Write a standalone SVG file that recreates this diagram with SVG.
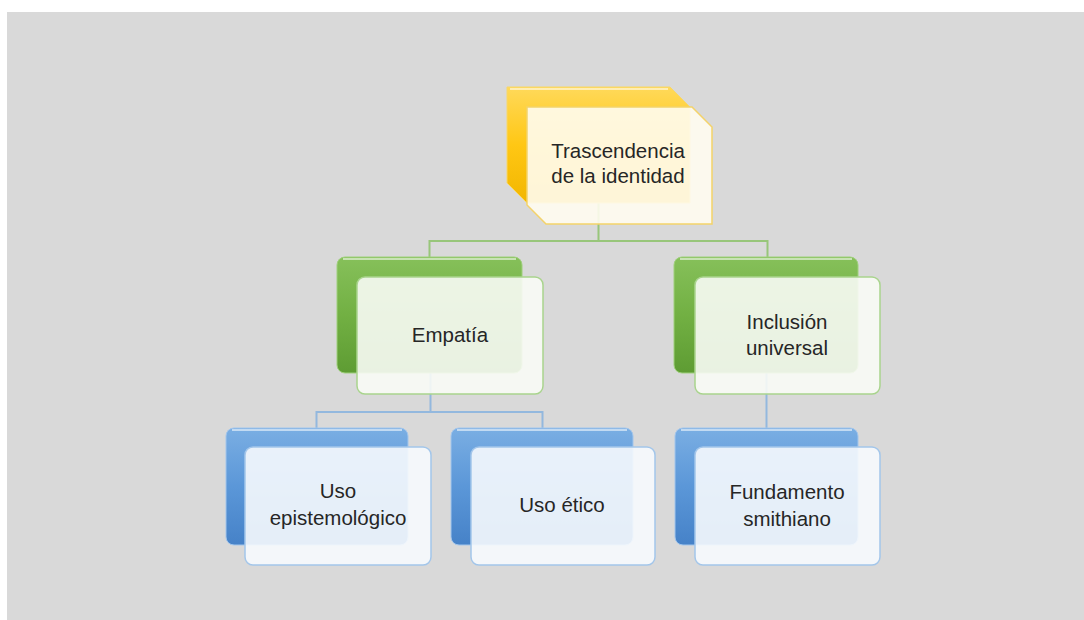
<svg xmlns="http://www.w3.org/2000/svg" width="1084" height="620" viewBox="0 0 1084 620">
<defs>
<linearGradient id="gY" x1="0" y1="0" x2="0" y2="1"><stop offset="0" stop-color="#ffd95a"/><stop offset="0.5" stop-color="#ffc714"/><stop offset="1" stop-color="#f2b600"/></linearGradient>
<linearGradient id="gG" x1="0" y1="0" x2="0" y2="1"><stop offset="0" stop-color="#86c05a"/><stop offset="0.5" stop-color="#72b043"/><stop offset="1" stop-color="#5e9c33"/></linearGradient>
<linearGradient id="gB" x1="0" y1="0" x2="0" y2="1"><stop offset="0" stop-color="#7aaee3"/><stop offset="0.5" stop-color="#5b97d8"/><stop offset="1" stop-color="#4682c8"/></linearGradient>
<style>
.txt{font-family:"Liberation Sans",Arial,sans-serif;font-size:20.5px;fill:#262626;text-anchor:middle}
.lnG{stroke:#98c67a;stroke-width:2;fill:none}
.lnB{stroke:#93b8de;stroke-width:2;fill:none}
.backG{fill:url(#gG);stroke:#9fd07c;stroke-width:1}
.backB{fill:url(#gB);stroke:#a3c6ec;stroke-width:1}
.frontG{fill:#f8fbf5;fill-opacity:0.9;stroke:#a9d48d;stroke-width:1.5}
.frontB{fill:#f6f9fd;fill-opacity:0.9;stroke:#a3c6ea;stroke-width:1.5}
.hl{stroke:#ffffff;stroke-opacity:0.55;stroke-width:2;fill:none}
</style>
</defs>
<rect x="0" y="0" width="1084" height="620" fill="#ffffff"/>
<rect x="7" y="12" width="1077" height="608" fill="#d9d9d9"/>

<g id="connectors">
<path class="lnG" d="M598.5 200 V241 M429.5 241 H767.5 M429.5 240 V258 M767.5 240 V258"/>
<path class="lnB" d="M430.5 370 V412 M316.5 412 H543 M316.5 411 V429 M542.5 411 V429"/>
<path class="lnB" d="M766.5 370 V429"/>
</g>

<g id="node-top">
<polygon points="507,87 670,87 690,107 690,203 527,203 507,183" fill="url(#gY)" stroke="#f7d76a" stroke-width="1"/>
<path class="hl" d="M510 89 H668"/>
<polygon points="527,107 692,107 712,127 712,224 546,224 527,205" fill="#fffcef" fill-opacity="0.9" stroke="#f4d36a" stroke-width="1.5"/>
<text class="txt" x="618" y="158">Trascendencia</text>
<text class="txt" x="618" y="183">de la identidad</text>
</g>

<g id="node-empatia">
<rect class="backG" x="337" y="257" width="185" height="116" rx="8"/>
<path class="hl" d="M343 259 H516"/>
<rect class="frontG" x="357" y="277" width="186" height="117" rx="8"/>
<text class="txt" x="450" y="342">Empatía</text>
</g>

<g id="node-inclusion">
<rect class="backG" x="674" y="257" width="184" height="116" rx="8"/>
<path class="hl" d="M680 259 H852"/>
<rect class="frontG" x="695" y="277" width="185" height="117" rx="8"/>
<text class="txt" x="787" y="329">Inclusión</text>
<text class="txt" x="787" y="355">universal</text>
</g>

<g id="node-epistemologico">
<rect class="backB" x="226" y="428" width="182" height="117" rx="8"/>
<path class="hl" d="M232 430 H402"/>
<rect class="frontB" x="245" y="447" width="186" height="118" rx="8"/>
<text class="txt" x="338" y="498">Uso</text>
<text class="txt" x="338" y="525">epistemológico</text>
</g>

<g id="node-etico">
<rect class="backB" x="451" y="428" width="182" height="117" rx="8"/>
<path class="hl" d="M457 430 H627"/>
<rect class="frontB" x="471" y="447" width="184" height="118" rx="8"/>
<text class="txt" x="562" y="512">Uso ético</text>
</g>

<g id="node-fundamento">
<rect class="backB" x="675" y="428" width="183" height="117" rx="8"/>
<path class="hl" d="M681 430 H852"/>
<rect class="frontB" x="695" y="447" width="185" height="118" rx="8"/>
<text class="txt" x="787" y="499">Fundamento</text>
<text class="txt" x="787" y="526">smithiano</text>
</g>
</svg>
